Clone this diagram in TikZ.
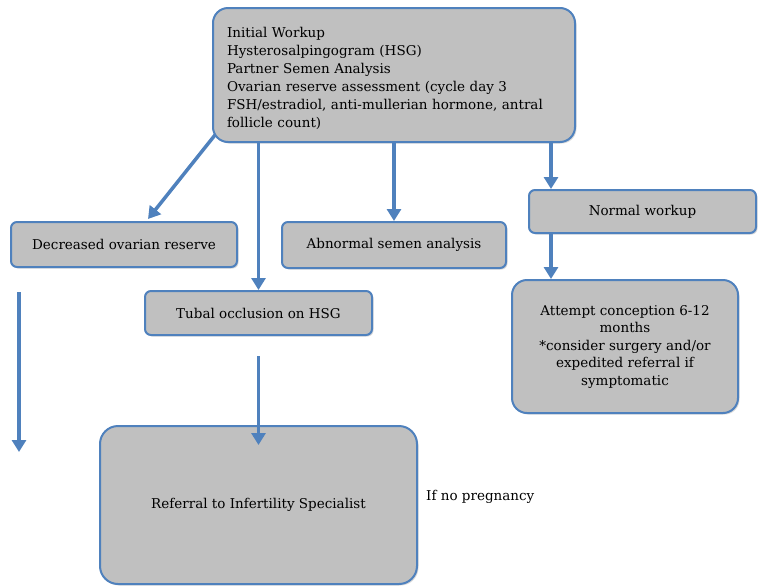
\documentclass[tikz,border=0pt]{standalone}
\usepackage{fontspec}
\setmainfont{DejaVu Serif}
\usetikzlibrary{arrows.meta,shadows}
\definecolor{boxblue}{RGB}{79,129,189}
\definecolor{boxgray}{RGB}{192,192,192}
\begin{document}
\begin{tikzpicture}[x=1pt,y=-1pt,
  box/.style={draw=boxblue, line width=2pt, fill=boxgray, rounded corners=6pt,
    font=\fontsize{13.5}{18}\selectfont, align=center, inner sep=0pt,
    drop shadow={shadow xshift=1.5pt, shadow yshift=-1.5pt, opacity=0.3}},
  arr/.style={draw=boxblue, line width=3.5pt, -{Triangle[width=14pt,length=12pt]}},
  plain/.style={font=\fontsize{13.5}{18}\selectfont, inner sep=0pt}]
\useasboundingbox (0,0) rectangle (763,587);

\node[box, rounded corners=15pt, minimum width=362pt, minimum height=134pt,
  text width=334pt, align=left] (init) at (394,75)
  {\rule{0pt}{18pt}Initial Workup\\
   Hysterosalpingogram (HSG)\\
   Partner Semen Analysis\\
   Ovarian reserve assessment (cycle day 3\\
   FSH/estradiol, anti-mullerian hormone, antral\\
   follicle count)};

\node[box, minimum width=226pt, minimum height=45pt] (dor) at (124,244.5) {Decreased ovarian reserve};
\node[box, minimum width=224pt, minimum height=46pt] (abn) at (394,245) {Abnormal semen analysis};
\node[box, minimum width=227pt, minimum height=43pt] (norm) at (642.5,211.5) {Normal workup};
\node[box, minimum width=227pt, minimum height=44pt] (tub) at (258.5,313) {Tubal occlusion on HSG};
\node[box, rounded corners=15pt, minimum width=226pt, minimum height=133pt,
  font=\fontsize{13.5}{17.5}\selectfont] (att) at (625,346.5)
  {Attempt conception 6-12\\ months\\ *consider surgery and/or\\ expedited referral if\\ symptomatic};
\node[box, rounded corners=18pt, minimum width=317pt, minimum height=158pt] (ref) at (258.5,505)
  {Referral to Infertility Specialist};
\node[plain, anchor=west] (nopreg) at (426,497) {If no pregnancy};

\coordinate (nx) at (551,0);
\coordinate (f1) at (19,292);
\coordinate (f2) at (19,452);

\draw[arr] ([shift={(3pt,8pt)}]init.south west) -- ([xshift=24pt,yshift=2pt]dor.north);
\draw[arr] (init.south -| tub.north) -- (tub.north);
\draw[arr] (init.south -| abn.north) -- (abn.north);
\draw[arr] (init.south -| nx) -- (norm.north -| nx);
\draw[arr] (norm.south -| nx) -- (att.north -| nx);
\draw[arr] (f1) -- (f2);
\draw[arr] ([yshift=-20pt]tub.south) -- ([yshift=-20pt]ref.north);
\end{tikzpicture}
\end{document}
